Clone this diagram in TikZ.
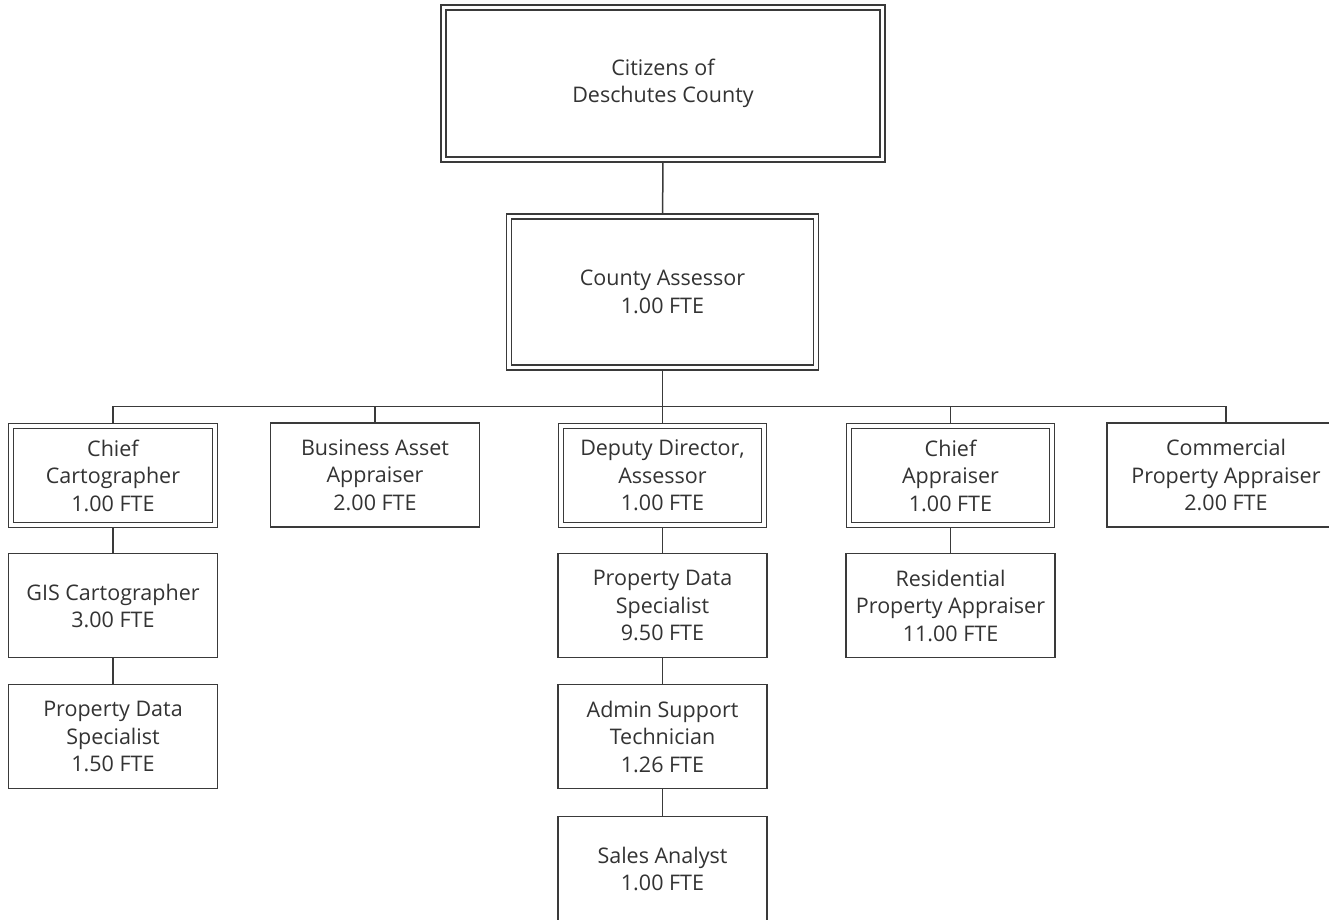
\documentclass[tikz,border=0pt]{standalone}
\usepackage{fontspec}
\setmainfont{Open Sans}
\definecolor{orgline}{HTML}{3A3A3A}
\definecolor{orgtext}{HTML}{333333}
\usepackage{tikz}
\usetikzlibrary{positioning,backgrounds}

\begin{document}
\begin{tikzpicture}[
    x=1pt, y=-1pt,
    node distance=27pt,
    box/.style={draw=orgline, fill=white, line width=1.3pt, outer sep=0pt,
                minimum width=209pt, minimum height=104pt, inner sep=0pt,
                font=\fontsize{21.5}{27.5}\selectfont, text=orgtext, align=center},
    dbox/.style={box, double, double distance=3.6pt,
                 minimum width=203.5pt, minimum height=98.5pt},
    conn/.style={draw=orgline, line width=1.5pt},
  ]
  \clip (0,0) rectangle (1329,919);
  \useasboundingbox (0,0) rectangle (1329,919);

  % top of the chart
  \node[dbox, minimum width=439pt, minimum height=152pt] (citizens) at (663,83.5)
        {Citizens of\\Deschutes County};
  \node[dbox, minimum width=307pt, minimum height=151pt] (assessor) at (662.5,292)
        {County Assessor\\1.00 FTE};

  % second row
  \node[dbox] (chiefcart) at (113,475.5)   {Chief\\Cartographer\\1.00 FTE};
  \node[box]  (bizasset)  at (375,475)     {Business Asset\\Appraiser\\2.00 FTE};
  \node[dbox] (deputy)    at (662.5,475.5) {Deputy Director,\\Assessor\\1.00 FTE};
  \node[dbox] (chiefappr) at (950.5,475.5) {Chief\\Appraiser\\1.00 FTE};
  \node[box, minimum width=238pt] (commercial) at (1226,475)
        {Commercial\\Property Appraiser\\2.00 FTE};

  % staff under each chief
  \node[box, below=29pt of chiefcart] (gis)   {GIS Cartographer\\3.00 FTE};
  \node[box, below=of gis]            (pdsgis) {Property Data\\Specialist\\1.50 FTE};
  \node[box, below=29pt of deputy]    (pdsdep) {Property Data\\Specialist\\9.50 FTE};
  \node[box, below=of pdsdep]         (admin)  {Admin Support\\Technician\\1.26 FTE};
  \node[box, below=28pt of admin]     (sales)  {Sales Analyst\\1.00 FTE};
  \node[box, below=29pt of chiefappr] (resid)  {Residential\\Property Appraiser\\11.00 FTE};

  \begin{scope}[on background layer]
    \draw[conn] (citizens) -- (assessor);
    \path (assessor.south) ++(0,39) coordinate (bus);
    \draw[conn] (assessor.south) -- (bus);
    \foreach \c in {chiefcart,bizasset,deputy,chiefappr,commercial}
      \draw[conn] (bus) -| (\c.north);
    \draw[conn] (chiefcart) -- (gis);
    \draw[conn] (gis) -- (pdsgis);
    \draw[conn] (deputy) -- (pdsdep);
    \draw[conn] (pdsdep) -- (admin);
    \draw[conn] (admin) -- (sales);
    \draw[conn] (chiefappr) -- (resid);
  \end{scope}
\end{tikzpicture}
\end{document}
